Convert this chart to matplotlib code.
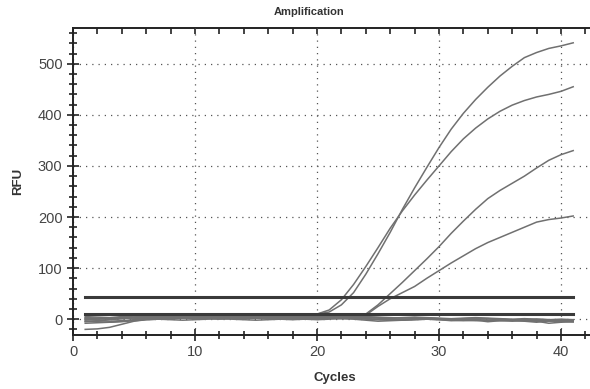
import matplotlib.pyplot as plt
from matplotlib.ticker import MultipleLocator
import numpy as np

plt.rcParams['font.family'] = ['Liberation Sans', 'DejaVu Sans']

cycles = np.arange(1, 42)

# amplifying wells
amp_curves = [
    [-5, -3, -1, 1, 3, 4, 5, 4, 5, 6, 5, 4, 5, 6, 5, 4, 5, 6, 7, 10,
     14, 28, 52, 88, 128, 170, 215, 257, 297, 336, 372, 403, 430, 454, 476, 495,
     512, 522, 530, 535, 541],
    [-2, 0, 2, 3, 4, 3, 2, 3, 4, 5, 4, 3, 4, 5, 6, 5, 4, 5, 6, 10,
     18, 38, 68, 103, 140, 178, 212, 243, 272, 300, 328, 353, 374, 392, 407, 419,
     428, 435, 440, 446, 455],
    [0, 1, 2, 3, 2, 1, 2, 3, 4, 3, 2, 3, 4, 5, 4, 3, 2, 3, 4, 5,
     6, 5, 5, 10, 28, 50, 72, 95, 118, 142, 168, 192, 215, 236, 252, 266,
     280, 296, 311, 322, 330],
    [3, 2, 1, 2, 3, 4, 5, 4, 3, 2, 3, 4, 5, 4, 3, 4, 5, 4, 3, 4,
     5, 6, 5, 8, 25, 40, 52, 64, 80, 95, 110, 124, 138, 150, 160, 170,
     180, 190, 195, 198, 202],
]

# flat (negative) wells
base_curves = [
    [-20, -19, -16, -10, -4, -1, 0, 1, 2, 2, 1, 0, 1, 2, 3, 2, 1, 0, 1, 2,
     3, 2, 1, 0, -1, -2, -1, 0, 1, 0, -1, -2, -3, -2, -1, -2, -4, -6, -3, -4, -5],
    [-8, -7, -6, -4, -2, 0, 1, 2, 3, 3, 2, 3, 4, 3, 2, 3, 4, 5, 4, 3,
     2, 3, 4, 3, 2, 1, 0, 1, 2, 1, 0, -1, 0, 1, 0, -1, -2, -3, -4, -3, -2],
    [5, 4, 3, 5, 6, 5, 4, 5, 6, 5, 4, 5, 6, 7, 6, 5, 4, 5, 6, 5,
     4, 3, 4, 5, 4, 3, 2, 3, 2, 1, 0, 1, 2, 1, 0, -2, -1, 0, -1, -2, -3],
    [0, -2, -4, -3, -1, 2, 4, 5, 4, 3, 2, 1, 2, 3, 2, 1, 0, -1, 0, 1,
     2, 1, 0, -2, -4, -3, -2, -1, 0, -1, -2, -3, -2, -5, -3, -2, -3, -4, -8, -6, -5],
    [-4, -5, -6, -5, -3, -1, 0, -1, -2, -1, 0, 1, 0, -1, -2, -1, 0, 1, 0, -1,
     0, 1, 2, 1, 0, -1, -2, -1, 0, -1, -3, -2, -1, -2, -3, -4, -3, -2, -3, -4, -5],
    [2, 1, 0, 1, 3, 4, 3, 2, 3, 4, 5, 4, 3, 2, 3, 4, 5, 6, 5, 4,
     5, 6, 5, 4, 3, 2, 3, 4, 3, 2, 1, 2, 3, 2, 1, 0, 1, 0, -1, 0, -1],
]

thresholds = [44, 10]

fig = plt.figure(figsize=(5.9, 3.89), dpi=100)
ax = fig.add_axes([73 / 590, 54 / 389, 524.6 / 590, 307 / 389])

for ys in base_curves:
    ax.plot(cycles, ys, color="#707070", linewidth=1.1)
for ys in amp_curves:
    ax.plot(cycles, ys, color="#707070", linewidth=1.1)
for t in thresholds:
    ax.plot([cycles[0], cycles[-1]], [t, t], color="#3a3a3a", linewidth=2.2)

ax.set_xlim(0, 43)
ax.set_ylim(-31, 570)
ax.xaxis.set_major_locator(MultipleLocator(10))
ax.xaxis.set_minor_locator(MultipleLocator(2))
ax.yaxis.set_major_locator(MultipleLocator(100))
ax.yaxis.set_minor_locator(MultipleLocator(20))

ax.tick_params(which="both", direction="inout", colors="#222222",
               labelcolor="#444444", labelsize=10.5, width=1.2)
ax.tick_params(which="major", length=8)
ax.tick_params(which="minor", length=6)

# top axis: ticks pointing inward only
top = ax.secondary_xaxis("top")
top.xaxis.set_major_locator(MultipleLocator(10))
top.xaxis.set_minor_locator(MultipleLocator(2))
top.tick_params(which="both", direction="in", length=4, width=1.2,
                colors="#222222", labeltop=False)
top.spines["top"].set_linewidth(1.4)
top.spines["top"].set_color("#222222")

ax.grid(True, which="major", color="#555555", linestyle=(0, (1, 4)), linewidth=0.9)

for s in ["left", "bottom"]:
    ax.spines[s].set_linewidth(1.4)
    ax.spines[s].set_color("#222222")
ax.spines["top"].set_visible(False)
ax.spines["right"].set_visible(False)

ax.set_xlabel("Cycles", fontsize=9.5, fontweight="bold", color="#333333", labelpad=9)
ax.set_ylabel("RFU", fontsize=9.5, fontweight="bold", color="#333333", labelpad=10)
fig.text(309 / 590, 1 - 12 / 389, "Amplification", ha="center", va="center",
         fontsize=8, fontweight="bold", color="#333333")

plt.savefig("out.png", dpi=100)
